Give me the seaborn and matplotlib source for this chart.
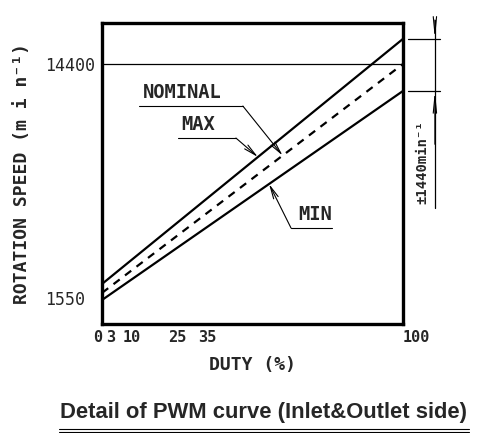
import numpy as np
import pandas as pd
import matplotlib
matplotlib.use("Agg")
import matplotlib.pyplot as plt
from matplotlib.lines import Line2D
from matplotlib.transforms import ScaledTranslation
import seaborn as sns

# values
duty = [0, 100]
rpm_max = [2320, 15780]
rpm_nominal = [1830, 14400]
rpm_min = [1440, 12920]

x_ticks = [0, 3, 10, 25, 35, 100]
y_ticks = [1550, 14400]
tol = 1440

sns.set_style("white")
plt.rcParams["font.family"] = ["DejaVu Sans Mono", "DejaVu Sans"]

fig = plt.figure(figsize=(4.93, 4.33), dpi=100)
ax = fig.add_axes([102 / 493, 109 / 433, 301 / 493, 301 / 433])

df = pd.DataFrame({"duty": duty, "max": rpm_max, "nom": rpm_nominal, "min": rpm_min})
sns.lineplot(data=df, x="duty", y="max", ax=ax, color="black", lw=1.6)
sns.lineplot(data=df, x="duty", y="min", ax=ax, color="black", lw=1.6)
sns.lineplot(data=df, x="duty", y="nom", ax=ax, color="black", lw=1.6,
             dashes=False, linestyle=(0, (3.5, 3)))

ax.axhline(14400, color="black", lw=0.9)

ax.set_xlim(0, 100)
ax.set_ylim(123, 16651)
ax.set_xticks(x_ticks)
ax.set_xticklabels([str(t) for t in x_ticks], fontsize=11, fontweight="bold")
ax.set_yticks(y_ticks)
ax.set_yticklabels([str(t) for t in y_ticks], fontsize=12)
ax.tick_params(length=0, pad=5)
ax.tick_params(axis="x", pad=4)
xl = ax.get_xticklabels()
xl[0].set_ha("right")
xl[-1].set_ha("left")
for lab in ax.get_yticklabels():
    if lab.get_text() == "1550":
        lab.set_transform(lab.get_transform() + ScaledTranslation(-10 / 100, 0, fig.dpi_scale_trans))

for s in ax.spines.values():
    s.set_color("black")
    s.set_linewidth(2.4)

ax.set_xlabel("DUTY (%)", fontsize=13, fontweight="bold", labelpad=8)
ax.set_ylabel("ROTATION SPEED (m i n⁻¹)", fontsize=13, fontweight="bold", labelpad=10)

# leaders to the curves
def leader(text, x0, x1, y, target, curve, left=True):
    ty = np.interp(target, duty, curve)
    start = x1 if left else x0
    ax.plot([x0, x1], [y, y], color="black", lw=0.8, clip_on=False)
    ax.annotate("", xy=(target, ty), xytext=(start, y),
                arrowprops=dict(arrowstyle="->,head_length=0.9,head_width=0.18",
                                color="black", lw=0.8, shrinkA=0, shrinkB=0))
    tx = x0 + (1.2 if left else 2.3)
    ax.text(tx, y + 200, text, fontsize=13.5, fontweight="bold", ha="left", va="bottom")

leader("NOMINAL", 12.3, 46.8, 12091, 60, rpm_nominal)
leader("MAX", 25.2, 44.5, 10334, 51.8, rpm_max)
leader("MIN", 62.8, 76.4, 5393, 55.5, rpm_min, left=False)

# tolerance dimension on the right
top, bot = rpm_max[-1], rpm_min[-1]
for yy in (top, bot):
    ax.plot([101.7, 112.3], [yy, yy], color="black", lw=0.9, clip_on=False)
ax.plot([110.6, 110.6], [16812, 6491], color="black", lw=0.9, clip_on=False)
ax.annotate("", xy=(110.6, top), xytext=(110.6, 16812),
            arrowprops=dict(arrowstyle="->,head_length=1.2,head_width=0.12",
                            color="black", lw=0.8, shrinkA=0, shrinkB=0), annotation_clip=False)
ax.annotate("", xy=(110.6, bot), xytext=(110.6, 6491 + 3500),
            arrowprops=dict(arrowstyle="->,head_length=1.2,head_width=0.12",
                            color="black", lw=0.8, shrinkA=0, shrinkB=0), annotation_clip=False)
ax.text(106.3, 9016, "±%dmin⁻¹" % tol, rotation=90, fontsize=10, fontweight="bold",
        ha="center", va="center", clip_on=False)

# caption with double rule
fig.text(264 / 493, 15 / 433, "Detail of PWM curve (Inlet&Outlet side)",
         family="Liberation Sans", fontweight="bold", fontsize=15.8,
         ha="center", va="baseline")
for yy in (1 - 429.3 / 433, 1 - 432.0 / 433):
    fig.add_artist(Line2D([59 / 493, 469 / 493], [yy, yy], color="black", lw=0.8))

fig.savefig("out.png", dpi=100)
